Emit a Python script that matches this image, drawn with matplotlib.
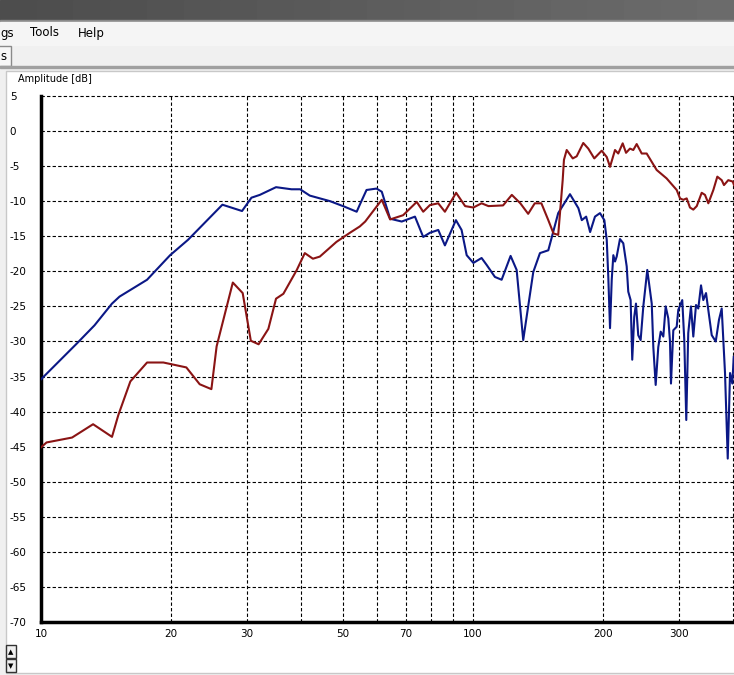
import matplotlib
matplotlib.use("Agg")
import matplotlib.pyplot as plt
from matplotlib.patches import Rectangle

# frequency response data (Hz, dB)
blue_f = [10, 12.1, 13.3, 14.6, 15.2, 17.6, 19.9, 21.9, 26.3, 29.2, 30.7, 32.1,
          35.0, 38.0, 39.8, 41.9, 46.7, 50.5, 53.8, 54.7, 56.7, 59.8, 61.5, 64.3,
          68.4, 73.4, 76.7, 79.5, 83.1, 86.1, 91.3, 94.1, 96.7, 100.2, 104.7, 107.6,
          112.4, 116.5, 122.2, 126.2, 130.7, 134.2, 137.9, 142.9, 149.4, 157.5,
          167.7, 175.4, 178.6, 182.8, 186.7, 191.6, 196.8, 201.4, 204.0, 205.7,
          207.6, 209.5, 211.3, 213.2, 215.1, 218.9, 222.8, 226.9, 228.8, 231.7,
          233.7, 236.2, 238.4, 241.3, 244.4, 247.9, 253.2, 259.3, 261.5, 264.8,
          268.5, 272.0, 275.8, 279.3, 283.2, 285.8, 287.3, 290.9, 296.2, 298.7,
          305.1, 308.4, 311.7, 315.0, 319.6, 323.6, 328.3, 332.3, 337.2, 341.3,
          346.3, 357.0, 364.7, 371.1, 376.5, 383.2, 388.8, 393.6, 398.4, 401.4]
blue_db = [-35.4, -30.3, -27.7, -24.6, -23.6, -21.2, -17.7, -15.5, -10.5, -11.4, -9.5, -9.1,
           -8.0, -8.3, -8.3, -9.2, -10.0, -10.8, -11.5, -10.5, -8.4, -8.2, -8.65, -12.5,
           -12.9, -12.2, -15.1, -14.5, -14.1, -16.3, -12.7, -14.1, -17.7, -18.8, -18.1, -19.1,
           -20.8, -21.2, -17.8, -19.8, -29.8, -25.0, -20.1, -17.4, -17.0, -11.7,
           -9.0, -11.0, -12.7, -12.2, -14.4, -12.2, -11.7, -12.7, -15.5, -20.8,
           -28.1, -21.2, -17.7, -18.6, -17.9, -15.4, -16.0, -19.3, -22.9, -24.1,
           -32.6, -26.5, -24.6, -29.1, -29.8, -25.0, -19.8, -24.6, -30.8, -36.2,
           -30.8, -28.6, -29.3, -25.0, -26.7, -30.0, -36.0, -28.4, -27.9, -25.5,
           -24.1, -29.8, -41.2, -28.8, -25.0, -29.3, -24.8, -25.3, -22.0, -24.1,
           -23.1, -29.1, -30.0, -26.9, -25.3, -34.5, -46.7, -34.5, -36.0, -32.2]

red_f = [10, 10.3, 11.8, 13.2, 14.6, 15.1, 16.1, 17.6, 19.2, 21.7, 23.3, 24.8,
         25.5, 27.8, 29.3, 30.6, 31.9, 33.6, 35.0, 36.4, 39.1, 40.8, 42.6, 44.2,
         48.3, 51.9, 54.7, 56.3, 61.5, 64.3, 68.9, 74.1, 76.7, 79.5, 83.1, 86.1,
         91.4, 95.9, 100.2, 104.7, 108.6, 117.4, 123.0, 128.7, 134.2, 139.0, 144.0,
         149.4, 153.6, 157.5, 161.3, 162.4, 164.8, 170.2, 173.8, 180.0, 184.9, 190.9,
         198.6, 204.0, 207.6, 213.2, 216.9, 222.1, 226.1, 230.9, 235.0, 239.3, 245.8,
         252.4, 266.2, 280.7, 296.2, 301.5, 306.8, 312.4, 317.9, 323.6, 329.6, 338.4,
         344.4, 350.6, 360.1, 367.8, 376.5, 381.1, 389.9, 399.3, 402]
red_db = [-45.1, -44.4, -43.7, -41.8, -43.6, -40.5, -35.7, -33.0, -33.0, -33.7, -36.1, -36.8,
          -30.7, -21.6, -23.1, -29.9, -30.4, -28.2, -23.9, -23.2, -19.8, -17.4, -18.2, -17.9,
          -15.8, -14.5, -13.6, -12.9, -9.8, -12.6, -12.0, -10.1, -11.5, -10.55, -10.3, -11.5,
          -8.8, -10.7, -10.9, -10.3, -10.7, -10.6, -9.1, -10.3, -11.8, -10.3, -10.3,
          -12.7, -14.6, -14.8, -7.0, -4.1, -2.7, -3.9, -3.6, -1.7, -2.5, -3.9,
          -2.8, -3.7, -5.1, -2.7, -3.2, -1.75, -3.1, -2.5, -2.7, -1.85, -3.2,
          -3.2, -5.55, -6.75, -8.4, -9.6, -9.8, -9.6, -10.9, -11.2, -10.7, -8.8,
          -9.1, -10.3, -8.4, -6.5, -7.0, -7.7, -7.0, -7.2, -7.7]

grid_freqs = [10, 20, 30, 40, 50, 60, 70, 80, 90, 100, 200, 300, 400]
freq_labels = {10: "10", 20: "20", 30: "30", 50: "50", 70: "70",
               100: "100", 200: "200", 300: "300"}
db_ticks = list(range(-70, 6, 5))

W, H = 734, 675
fig = plt.figure(figsize=(W / 100, H / 100), dpi=100)

# window chrome drawn in pixel coordinates
bg = fig.add_axes([0, 0, 1, 1], zorder=0)
bg.set_xlim(0, W)
bg.set_ylim(H, 0)
bg.axis("off")
bg.add_patch(Rectangle((0, 0), W, H, color="#f0f0f0"))
# dark title bar, a little lighter towards the right
for i in range(20):
    shade = 0.30 + 0.12 * i / 19
    bg.add_patch(Rectangle((i * W / 20, 0), W / 20 + 1, 20, color=(shade, shade, shade)))
bg.add_patch(Rectangle((0, 20), W, 2, color="#8a8a8a"))
bg.add_patch(Rectangle((0, 22), W, 23, color="#f5f5f5"))
bg.text(0, 33, "gs", fontsize=8.5, va="center", ha="left")
bg.text(30, 33, "Tools", fontsize=8.5, va="center", ha="left")
bg.text(78, 33, "Help", fontsize=8.5, va="center", ha="left")
bg.add_patch(Rectangle((-2, 46), 13, 20, facecolor="#f7f7f7", edgecolor="#8a8a8a", lw=1))
bg.text(0, 56, "s", fontsize=8.5, va="center", ha="left")
bg.add_patch(Rectangle((0, 66), W, 2, color="#a0a0a0"))
bg.add_patch(Rectangle((6, 71), W, 602, facecolor="white", edgecolor="#c8c8c8", lw=1))
bg.text(18, 79, "Amplitude [dB]", fontsize=7, va="center", ha="left")
bg.add_patch(Rectangle((6, 645), 10, 13, facecolor="#f0f0f0", edgecolor="#333333", lw=1))
bg.add_patch(Rectangle((6, 659), 10, 13, facecolor="#f0f0f0", edgecolor="#333333", lw=1))
bg.text(11, 652, "\u25b2", fontsize=5, va="center", ha="center")
bg.text(11, 666, "\u25bc", fontsize=5, va="center", ha="center")

# plot area: 10 Hz at x=41, -70 dB at y=622, 5 dB at y=96
ax = fig.add_axes([41 / W, (H - 622) / H, 1 - 41 / W, (622 - 96) / H], zorder=1)
ax.patch.set_alpha(0)
ax.set_xscale("log")
ax.set_xlim(10, 402)
ax.set_ylim(-70, 5)

ax.plot(blue_f, blue_db, color="#0b1886", lw=1.5, zorder=3)
ax.plot(red_f, red_db, color="#8a1414", lw=1.5, zorder=3)

ax.set_xticks(grid_freqs)
ax.set_xticklabels([freq_labels.get(f, "") for f in grid_freqs])
ax.xaxis.set_minor_locator(matplotlib.ticker.NullLocator())
ax.set_yticks(db_ticks)
ax.set_yticklabels([str(v) for v in db_ticks])
ax.tick_params(length=0, labelsize=7.5, colors="black")
ax.tick_params(axis="x", pad=5)
ax.tick_params(axis="y", pad=22.5)
for lab in ax.get_yticklabels():
    lab.set_horizontalalignment("left")

for f in grid_freqs:
    ax.axvline(f, color="black", lw=0.8, ls=(0, (3, 2)), zorder=1, clip_on=False)
for v in db_ticks:
    ax.axhline(v, color="black", lw=0.8, ls=(0, (3, 2)), zorder=1, clip_on=False)

for s in ["top", "right"]:
    ax.spines[s].set_visible(False)
ax.spines["left"].set_linewidth(2.5)
ax.spines["bottom"].set_linewidth(2.5)

fig.savefig("out.png", dpi=100)
